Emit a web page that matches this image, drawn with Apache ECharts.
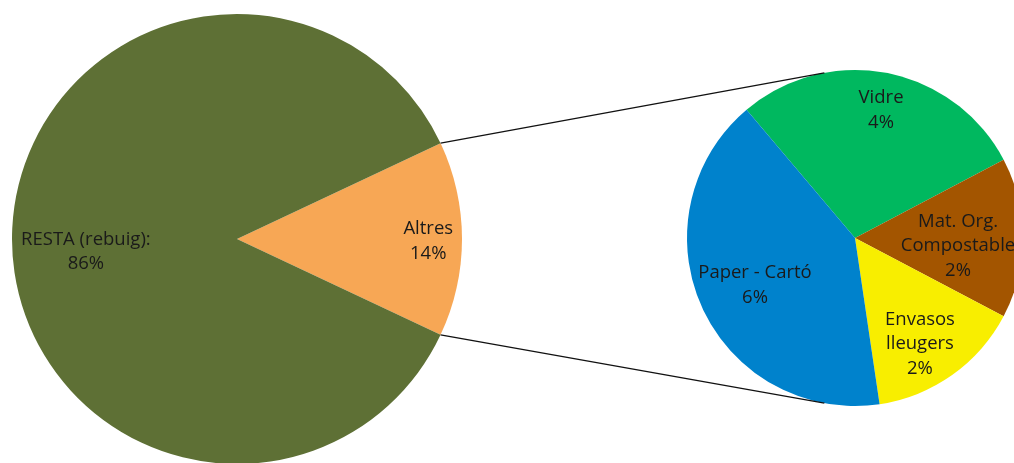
<!DOCTYPE html>
<html>
<head>
<meta charset="utf-8">
<script src="https://cdn.jsdelivr.net/npm/echarts@6/dist/echarts.min.js"></script>
<style>
html,body{margin:0;padding:0;background:#fff;}
#chart{width:1014px;height:463px;}
</style>
</head>
<body>
<div id="chart"></div>
<script>
// ---- data ----
const mainNames = ['Altres', 'RESTA (rebuig):'];
const mainValues = [14, 86];
const subNames = ['Vidre', 'Mat. Org.\nCompostable', 'Envasos\nlleugers', 'Paper - Cartó'];
const subValues = [3.98, 2.16, 2.09, 5.76];

// ---- styles / layout ----
const mainColors = ['#F7A755', '#5E7035'];
const subColors = ['#00B85F', '#A35500', '#F8EE00', '#0082CC'];
const mainCenter = [237, 239], mainR = 225;
const subCenter = [855, 238], subR = 168;
const mainStart = 360 * mainValues[0] / 100 / 2; // Altres centred on 3 o'clock
const subStart = 130.2;
const mainLabelFrac = [0.85, 0.674], mainLabelDelta = [-0.6, 4.9];
const subLabelFrac = [0.777, 0.615, 0.74, 0.658], subLabelDelta = [-0.5, -4.4, -3.8, 0.9];
const subTangentAngle = 100.5;

function midAngles(values, start) {
  const tot = values.reduce((a, b) => a + b, 0);
  let a = start; const out = [];
  values.forEach(v => { const s = 360 * v / tot; out.push(a - s / 2); a -= s; });
  return out;
}
function polar(c, r, deg) {
  const t = deg * Math.PI / 180;
  return [c[0] + r * Math.cos(t), c[1] - r * Math.sin(t)];
}
const mainMid = midAngles(mainValues, mainStart);
const subMid = midAngles(subValues, subStart);

const font = '"Open Sans", sans-serif';
const labelStyle = {
  show: true, position: 'inside', color: '#1a1a1a', fontFamily: font,
  fontSize: 18.5, lineHeight: 24.5, align: 'center',
  formatter: p => p.name + '\n' + Math.round(p.value) + '%'
};

const p1 = polar(mainCenter, mainR, mainStart);
const p2 = polar(mainCenter, mainR, -mainStart);
const q1 = polar(subCenter, subR, subTangentAngle);
const q2 = polar(subCenter, subR, -subTangentAngle);

const chart = echarts.init(document.getElementById('chart'), null, {renderer: 'canvas'});
chart.setOption({
  animation: false,
  backgroundColor: '#fff',
  series: [
    {
      type: 'pie', center: mainCenter, radius: mainR, startAngle: mainStart,
      clockwise: true, silent: true,
      itemStyle: {borderWidth: 0},
      label: labelStyle, labelLine: {show: false},
      data: mainNames.map((n, i) => ({name: n, value: mainValues[i], itemStyle: {color: mainColors[i]}})),
      labelLayout: p => {
        const i = p.dataIndex;
        const xy = polar(mainCenter, mainR * mainLabelFrac[i], mainMid[i] + mainLabelDelta[i]);
        return {x: xy[0], y: xy[1], align: 'center', verticalAlign: 'middle'};
      }
    },
    {
      type: 'pie', center: subCenter, radius: subR, startAngle: subStart,
      clockwise: true, silent: true,
      itemStyle: {borderWidth: 0},
      label: labelStyle, labelLine: {show: false},
      data: subNames.map((n, i) => ({name: n, value: subValues[i], itemStyle: {color: subColors[i]}})),
      labelLayout: p => {
        const i = p.dataIndex;
        const xy = polar(subCenter, subR * subLabelFrac[i], subMid[i] + subLabelDelta[i]);
        return {x: xy[0], y: xy[1], align: 'center', verticalAlign: 'middle'};
      }
    }
  ],
  graphic: [
    {type: 'line', z: 10, shape: {x1: p1[0], y1: p1[1], x2: q1[0], y2: q1[1]}, style: {stroke: '#111', lineWidth: 1.3}},
    {type: 'line', z: 10, shape: {x1: p2[0], y1: p2[1], x2: q2[0], y2: q2[1]}, style: {stroke: '#111', lineWidth: 1.3}}
  ]
});
</script>
</body>
</html>
